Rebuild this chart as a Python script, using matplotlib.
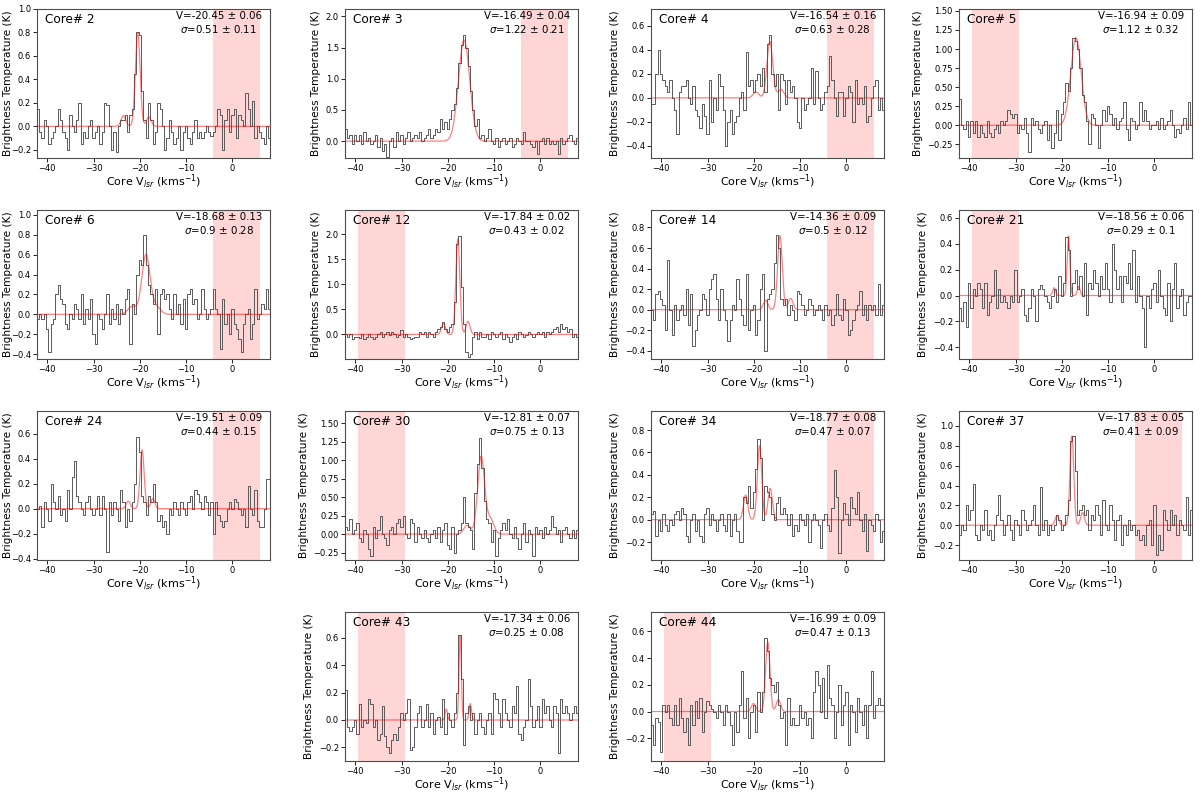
import numpy as np
import matplotlib
matplotlib.use("Agg")
import matplotlib.pyplot as plt
from matplotlib.ticker import MultipleLocator

# channel grid of the spectra (km/s)
v_start = -42.0
v_step = 0.5

cores = [2, 3, 4, 5, 6, 12, 14, 21, 24, 30, 34, 37, 43, 44]

# fitted centroid / width and their errors (as printed on each panel)
v_fit = [-20.45, -16.49, -16.54, -16.94, -18.68, -17.84, -14.36, -18.56, -19.51, -12.81, -18.77, -17.83, -17.34, -16.99]
v_err = [0.06, 0.04, 0.16, 0.09, 0.13, 0.02, 0.09, 0.06, 0.09, 0.07, 0.08, 0.05, 0.06, 0.09]
sig_fit = [0.51, 1.22, 0.63, 1.12, 0.9, 0.43, 0.5, 0.29, 0.44, 0.75, 0.47, 0.41, 0.25, 0.47]
sig_err = [0.11, 0.21, 0.28, 0.32, 0.28, 0.02, 0.12, 0.1, 0.15, 0.13, 0.07, 0.09, 0.08, 0.13]

# peak of main component and satellite (offset, peak) pairs of the fit
fit_peak = [0.8, 1.62, 0.47, 1.15, 0.6, 1.9, 0.72, 0.46, 0.47, 1.05, 0.66, 0.9, 0.62, 0.52]
fit_sats = [
    [(-3.1, 0.09), (2.4, 0.08)],
    [],
    [(-3.0, 0.05), (2.4, 0.07)],
    [],
    [(-3.0, 0.08), (2.3, 0.07)],
    [(-3.1, 0.22), (2.2, 0.26)],
    [(-3.1, 0.09), (2.3, 0.11)],
    [(-3.1, 0.06), (2.2, 0.07)],
    [(-3.0, 0.06), (2.3, 0.08)],
    [(-3.0, 0.12), (2.0, 0.2)],
    [(-3.0, 0.22), (2.3, 0.28)],
    [(-3.2, 0.1), (2.3, 0.13)],
    [(-3.0, 0.08), (2.2, 0.12)],
    [(-3.1, 0.06), (2.3, 0.09)],
]

# shaded baseline window for each core
shade = ["r", "r", "r", "l", "r", "l", "r", "l", "r", "l", "r", "r", "l", "l"]
shade_lims = {"r": (-4.2, 5.9), "l": (-39.4, -29.3)}

ylims = [(-0.27, 1.0), (-0.27, 2.12), (-0.5, 0.74), (-0.43, 1.525), (-0.45, 1.05),
         (-0.49, 2.48), (-0.48, 0.97), (-0.49, 0.66), (-0.41, 0.78), (-0.35, 1.665),
         (-0.36, 0.97), (-0.35, 1.15), (-0.30, 0.79), (-0.37, 0.745)]
ystep = [None, None, None, 0.25, None, None, None, None, None, 0.25, None, None, None, None]

# spectra, one value per 0.5 km/s channel from -42 to 8 km/s
t2 = [0.15, -0.05, -0.1, 0.05, 0.0, -0.15, -0.1, -0.05, 0.0, 0.15,
      0.05, -0.05, -0.1, -0.2, 0.1, 0.0, -0.05, 0.05, 0.2, -0.15,
      -0.05, -0.1, 0.0, 0.05, -0.1, -0.05, 0.0, -0.15, -0.05, 0.2,
      0.18, 0.0, -0.2, -0.05, -0.22, 0.0, 0.05, 0.05, 0.1, -0.05,
      0.1, 0.15, 0.45, 0.8, 0.78, 0.3, 0.05, -0.1, 0.2, 0.05,
      -0.15, -0.05, 0.2, 0.15, 0.0, -0.2, -0.1, 0.05, -0.05, -0.15,
      -0.1, 0.0, -0.2, -0.05, 0.0, -0.1, -0.15, -0.05, 0.05, -0.1,
      -0.05, -0.1, -0.05, 0.0, -0.05, -0.08, -0.05, 0.0, 0.15, 0.1,
      -0.2, 0.05, 0.15, -0.05, 0.1, 0.15, -0.1, 0.1, 0.05, 0.0,
      0.28, 0.15, 0.0, 0.22, -0.1, 0.0, -0.05, -0.1, -0.15, 0.0,
      -0.1]
t3 = [0.2, 0.05, 0.1, -0.05, 0.1, 0.0, 0.1, -0.05, 0.15, 0.0,
      0.05, -0.05, 0.0, 0.1, -0.1, 0.05, -0.15, -0.05, -0.25, 0.0,
      0.05, -0.1, 0.15, 0.0, 0.1, -0.05, 0.05, 0.15, 0.0, 0.05,
      0.1, 0.05, 0.15, 0.0, 0.05, 0.1, 0.2, 0.05, 0.1, 0.2,
      0.15, 0.35, 0.2, 0.3, 0.2, 0.35, 0.5, 0.6, 0.85, 1.25,
      1.55, 1.7, 1.5, 1.2, 0.8, 0.5, 0.25, 0.35, 0.05, 0.1,
      0.0, 0.05, 0.2, 0.0, -0.05, 0.05, -0.1, 0.0, 0.05, -0.05,
      0.0, 0.05, -0.1, -0.05, 0.05, 0.0, -0.05, 0.15, 0.0, 0.0,
      -0.05, -0.1, 0.0, -0.2, 0.0, 0.05, -0.05, 0.05, -0.05, 0.0,
      -0.05, 0.0, -0.2, 0.05, -0.05, 0.0, 0.05, 0.1, 0.0, -0.05,
      0.05]
t4 = [-0.05, -0.05, 0.2, 0.4, 0.2, 0.15, 0.1, 0.05, 0.15, 0.0,
      -0.1, -0.3, 0.05, 0.1, 0.1, 0.15, 0.0, -0.05, 0.1, -0.1,
      -0.15, -0.25, -0.05, -0.15, -0.3, 0.15, -0.2, 0.0, -0.1, 0.2,
      0.1, -0.1, -0.4, -0.2, -0.1, -0.3, -0.2, -0.15, 0.0, 0.05,
      -0.1, 0.38, 0.1, 0.15, 0.05, 0.15, 0.2, 0.1, 0.25, 0.05,
      0.45, 0.52, 0.2, 0.1, 0.2, -0.1, 0.2, 0.15, -0.05, 0.15,
      0.05, 0.1, 0.0, -0.2, -0.25, 0.0, -0.1, -0.05, 0.0, 0.25,
      -0.05, 0.22, 0.0, -0.1, -0.05, 0.05, 0.1, 0.35, 0.15, 0.0,
      -0.15, 0.05, 0.05, -0.15, 0.0, 0.1, 0.05, -0.2, 0.15, -0.05,
      0.0, -0.05, 0.1, -0.2, -0.15, 0.0, 0.1, 0.15, -0.1, 0.0,
      -0.1]
t5 = [0.35, 0.0, -0.05, 0.05, -0.15, 0.05, -0.1, 0.05, -0.15, 0.0,
      -0.1, -0.15, 0.05, -0.1, -0.15, -0.05, 0.0, -0.1, 0.05, 0.0,
      0.05, 0.2, 0.15, 0.1, 0.15, -0.1, 0.0, -0.05, 0.1, -0.1,
      -0.35, 0.1, 0.0, 0.05, -0.05, -0.1, 0.0, 0.05, -0.2, 0.0,
      -0.3, -0.1, 0.2, -0.2, 0.15, 0.3, 0.55, 0.45, 0.75, 1.15,
      1.1, 1.0, 0.75, 0.4, 0.3, 0.05, -0.25, 0.15, 0.1, 0.0,
      -0.3, 0.0, 0.2, 0.05, 0.25, 0.15, 0.0, 0.1, -0.05, 0.05,
      0.1, 0.3, -0.05, -0.2, 0.1, 0.05, -0.05, 0.0, 0.3, 0.05,
      0.2, 0.05, -0.05, 0.0, 0.0, 0.05, -0.05, 0.1, -0.05, 0.0,
      0.05, 0.2, 0.0, -0.15, -0.05, -0.1, 0.0, 0.1, -0.05, 0.3,
      0.0]
t6 = [-0.05, 0.0, -0.05, 0.0, -0.15, -0.38, -0.1, -0.05, 0.2, 0.3,
      0.15, 0.1, -0.1, -0.15, 0.0, -0.05, 0.1, 0.05, -0.05, 0.2,
      -0.1, 0.05, -0.05, 0.15, -0.2, -0.3, 0.0, -0.05, -0.15, 0.0,
      0.2, -0.1, 0.05, -0.05, 0.1, -0.1, 0.05, 0.0, 0.15, 0.25,
      -0.3, 0.1, 0.0, 0.4, 0.55, 0.5, 0.8, 0.5, 0.3, 0.2,
      0.1, 0.25, -0.2, 0.2, 0.25, 0.15, 0.2, 0.05, -0.05, 0.2,
      0.0, 0.1, -0.1, 0.15, -0.15, 0.2, 0.25, 0.1, 0.15, -0.05,
      0.0, 0.25, 0.05, -0.05, 0.0, 0.05, 0.25, 0.05, 0.0, -0.35,
      0.15, -0.1, 0.0, -0.2, 0.05, -0.1, -0.15, -0.25, -0.38, -0.1,
      0.0, 0.05, -0.25, -0.1, 0.25, -0.05, 0.0, 0.1, 0.05, 0.25,
      0.05]
t12 = [0.0, -0.05, 0.0, -0.1, -0.05, -0.05, -0.08, 0.0, -0.1, -0.05,
       0.0, -0.05, -0.1, -0.05, 0.0, 0.05, -0.05, 0.0, 0.05, -0.02,
       0.05, 0.0, -0.05, -0.02, 0.08, -0.05, 0.0, -0.05, -0.1, -0.08,
       -0.05, -0.05, 0.05, 0.0, 0.05, -0.05, 0.05, 0.0, -0.05, 0.05,
       0.1, 0.15, 0.25, 0.1, 0.05, 0.15, 0.2, 0.65, 1.8, 1.97,
       0.95, 0.2, -0.35, -0.45, -0.4, -0.05, 0.05, -0.1, 0.05, -0.05,
       -0.05, 0.0, -0.1, 0.05, 0.0, -0.05, 0.0, 0.05, -0.1, 0.0,
       -0.05, -0.15, -0.05, 0.0, -0.1, 0.05, 0.0, -0.05, -0.02, 0.05,
       0.0, -0.05, 0.0, 0.05, 0.0, 0.05, -0.05, 0.05, 0.0, 0.05,
       0.1, 0.15, 0.05, 0.2, 0.1, 0.15, 0.05, 0.1, -0.05, 0.0,
       -0.05]
t14 = [0.0, -0.1, 0.15, 0.18, 0.1, 0.05, -0.2, 0.48, 0.0, -0.25,
       0.05, -0.1, 0.0, 0.05, -0.05, 0.2, -0.15, 0.15, -0.35, -0.2,
       -0.05, 0.0, 0.15, 0.1, -0.05, 0.2, 0.3, 0.35, 0.1, -0.1,
       0.2, 0.0, -0.1, -0.3, -0.1, 0.05, 0.0, 0.3, 0.1, -0.05,
       -0.15, 0.35, -0.2, 0.0, 0.05, -0.25, -0.1, 0.2, 0.35, -0.4,
       0.1, 0.15, 0.2, 0.45, 0.73, 0.6, 0.1, 0.05, 0.1, -0.05,
       0.05, 0.0, -0.1, 0.18, 0.15, 0.05, -0.05, 0.0, 0.1, 0.05,
       -0.05, 0.0, 0.05, 0.0, -0.1, 0.05, -0.05, 0.0, -0.15, -0.05,
       0.15, -0.05, -0.1, 0.1, 0.0, -0.25, -0.2, -0.1, 0.0, 0.05,
       0.18, -0.05, 0.05, -0.1, 0.05, 0.0, 0.05, -0.05, 0.25, -0.05,
       0.05]
t21 = [-0.1, -0.2, -0.05, -0.24, 0.1, -0.1, 0.05, 0.0, 0.1, 0.05,
       -0.1, 0.1, -0.15, -0.05, 0.0, 0.2, -0.1, 0.05, -0.05, 0.0,
       -0.05, -0.1, 0.0, -0.05, 0.2, -0.05, 0.0, 0.05, -0.15, -0.2,
       -0.1, 0.05, 0.0, -0.2, 0.05, 0.08, 0.05, 0.0, -0.05, -0.1,
       0.0, 0.05, -0.05, 0.15, 0.0, 0.1, 0.45, 0.35, 0.0, 0.1,
       0.2, 0.05, 0.15, 0.0, 0.25, -0.15, 0.1, 0.05, 0.2, 0.1,
       0.0, 0.15, 0.05, 0.25, 0.05, -0.05, 0.4, 0.2, 0.05, 0.15,
       -0.05, 0.15, 0.1, 0.25, 0.05, 0.35, -0.05, 0.15, 0.0, -0.1,
       -0.4, 0.0, -0.1, 0.05, 0.1, -0.05, 0.2, 0.0, -0.1, -0.15,
       0.1, -0.2, 0.05, 0.25, -0.1, 0.0, 0.05, -0.15, -0.05, 0.0,
       0.0]
t24 = [0.0, 0.02, -0.15, 0.05, 0.0, -0.1, 0.2, 0.05, 0.0, 0.1,
       -0.05, 0.0, -0.1, 0.15, 0.0, 0.25, 0.38, 0.1, 0.05, 0.0,
       -0.05, 0.05, 0.1, 0.0, -0.05, 0.0, 0.1, -0.05, 0.1, 0.0,
       -0.35, 0.05, -0.05, 0.05, 0.0, -0.1, 0.15, 0.05, -0.15, 0.0,
       -0.1, 0.05, 0.2, 0.57, 0.45, 0.1, 0.05, -0.05, 0.1, 0.05,
       0.2, 0.05, -0.1, -0.05, -0.15, -0.1, -0.2, 0.0, -0.05, 0.05,
       0.0, -0.05, 0.05, 0.0, -0.05, 0.05, 0.1, 0.0, 0.15, 0.12,
       0.05, 0.0, 0.1, 0.05, -0.05, 0.05, -0.2, 0.05, -0.05, -0.1,
       -0.15, -0.1, 0.0, 0.05, 0.0, 0.08, 0.05, 0.0, -0.05, 0.0,
       -0.15, 0.18, 0.0, -0.05, 0.15, -0.1, -0.15, -0.15, 0.0, 0.24,
       0.24]
t30 = [0.1, 0.05, 0.2, 0.0, 0.05, 0.15, -0.05, -0.1, 0.05, 0.0,
       -0.2, -0.3, 0.1, -0.05, 0.05, 0.25, 0.0, -0.05, -0.15, 0.05,
       0.1, 0.0, 0.15, 0.2, 0.1, 0.25, 0.0, -0.05, 0.2, 0.15,
       -0.1, 0.1, 0.0, -0.05, 0.05, -0.05, -0.1, 0.0, 0.05, -0.05,
       0.1, -0.1, 0.05, 0.15, -0.15, -0.2, 0.1, -0.25, 0.0, 0.05,
       0.15, 0.5, 0.15, 0.1, 0.05, -0.2, 0.55, 0.95, 1.3, 0.9,
       0.45, 0.2, 0.15, -0.1, 0.05, -0.3, -0.05, 0.05, 0.15, 0.05,
       0.2, 0.0, -0.05, 0.1, -0.05, -0.2, 0.0, 0.15, -0.1, 0.05,
       0.0, -0.3, 0.1, 0.0, 0.05, -0.05, 0.1, 0.0, 0.05, 0.25,
       0.1, 0.0, 0.05, -0.1, 0.05, 0.1, 0.0, -0.05, 0.05, -0.05,
       0.05]
t34 = [0.05, 0.08, -0.15, 0.0, -0.1, 0.05, -0.05, -0.1, 0.0, -0.05,
       0.05, 0.08, 0.0, 0.1, 0.05, -0.15, -0.2, 0.0, 0.05, -0.1,
       0.0, -0.15, -0.2, 0.05, 0.1, -0.05, 0.05, 0.0, -0.1, 0.0,
       0.05, -0.05, -0.1, 0.05, -0.15, 0.0, 0.05, -0.1, -0.2, -0.2,
       0.2, 0.15, 0.3, 0.1, 0.25, 0.45, 0.72, 0.55, 0.0, 0.3,
       0.25, 0.2, 0.05, 0.0, 0.15, 0.2, 0.05, 0.1, 0.05, -0.05,
       0.05, -0.15, -0.05, -0.1, 0.05, 0.0, -0.05, 0.05, -0.2, 0.0,
       0.05, 0.0, -0.05, -0.25, 0.0, 0.05, -0.05, -0.1, 0.1, 0.44,
       0.2, -0.3, 0.0, 0.15, 0.05, -0.05, 0.2, 0.1, 0.05, 0.25,
       0.0, -0.1, 0.05, -0.28, 0.0, -0.05, -0.1, 0.05, 0.0, -0.2,
       -0.1]
t37 = [-0.1, 0.0, -0.05, 0.2, 0.05, 0.15, 0.42, -0.1, -0.15, 0.0,
       -0.05, 0.15, -0.1, -0.05, -0.15, 0.0, 0.1, 0.3, 0.05, -0.1,
       0.0, 0.1, -0.05, -0.15, 0.05, 0.0, -0.1, 0.15, 0.05, -0.05,
       0.0, 0.05, 0.2, 0.0, -0.1, 0.38, -0.05, 0.05, -0.1, 0.0,
       -0.05, 0.0, 0.1, 0.05, -0.05, 0.0, 0.1, 0.25, 0.85, 0.9,
       0.55, 0.1, 0.15, 0.2, 0.1, 0.15, -0.05, 0.1, 0.05, 0.2,
       0.1, -0.1, 0.25, 0.0, -0.05, 0.2, 0.05, -0.15, 0.05, 0.1,
       -0.2, 0.0, -0.1, 0.05, -0.05, 0.0, -0.1, -0.05, -0.15, -0.1,
       -0.2, 0.0, 0.05, -0.2, 0.2, -0.3, -0.1, -0.25, 0.15, 0.05,
       -0.05, 0.15, 0.0, 0.1, -0.1, 0.05, 0.0, -0.05, 0.28, -0.1,
       0.15]
t43 = [0.22, -0.05, -0.08, -0.05, 0.0, -0.1, 0.12, -0.05, 0.0, -0.02,
       0.15, 0.12, -0.05, 0.0, -0.15, -0.1, 0.1, -0.12, -0.2, -0.24,
       -0.15, -0.1, -0.15, -0.05, 0.05, 0.0, 0.05, 0.15, -0.22, -0.2,
       -0.05, 0.05, 0.1, -0.05, 0.0, 0.12, -0.05, 0.05, -0.1, 0.0,
       0.02, -0.05, 0.15, -0.1, 0.05, 0.0, -0.05, 0.05, 0.2, 0.62,
       0.3, -0.18, 0.05, 0.1, 0.0, 0.05, -0.1, 0.0, 0.05, -0.05,
       -0.1, 0.0, 0.05, -0.1, 0.2, 0.15, 0.05, -0.05, 0.15, 0.05,
       0.0, -0.05, 0.1, 0.05, 0.25, -0.1, -0.15, -0.05, 0.0, 0.3,
       0.1, -0.05, 0.0, 0.1, -0.05, 0.15, 0.05, 0.1, 0.0, -0.05,
       0.1, 0.05, -0.24, 0.15, 0.05, 0.1, 0.05, 0.0, 0.05, 0.1,
       0.05]
t44 = [-0.1, -0.25, -0.05, -0.08, -0.3, 0.05, 0.0, 0.05, -0.05, -0.1,
       0.05, -0.1, 0.1, -0.05, -0.15, -0.05, -0.25, 0.05, -0.1, 0.08,
       -0.05, 0.1, -0.15, 0.0, 0.08, 0.05, 0.02, 0.0, -0.05, 0.05,
       0.0, -0.1, 0.05, 0.0, -0.1, -0.25, 0.0, -0.15, 0.05, 0.3,
       -0.05, 0.1, -0.2, 0.0, 0.05, -0.15, 0.15, 0.0, 0.15, 0.55,
       0.45, 0.25, 0.2, 0.15, 0.22, 0.05, -0.05, 0.0, -0.25, 0.1,
       -0.1, -0.05, -0.1, -0.1, 0.05, -0.05, 0.0, -0.1, -0.05, -0.2,
       0.15, 0.3, 0.2, 0.0, 0.25, -0.05, 0.35, 0.1, 0.05, -0.2,
       0.0, 0.2, -0.1, 0.05, 0.15, -0.25, 0.05, 0.0, -0.15, 0.1,
       0.0, -0.1, 0.05, -0.2, 0.05, 0.3, -0.05, 0.05, 0.1, 0.05,
       0.05]
spectra = [t2, t3, t4, t5, t6, t12, t14, t21, t24, t30, t34, t37, t43, t44]

# panel grid: (row, col) for each core
slots = [(0, 0), (0, 1), (0, 2), (0, 3),
         (1, 0), (1, 1), (1, 2), (1, 3),
         (2, 0), (2, 1), (2, 2), (2, 3),
         (3, 1), (3, 2)]

W, H = 1200, 792
fig = plt.figure(figsize=(W / 100, H / 100), dpi=100)
col_left = [37, 345, 651, 959]
row_top = [9, 210, 411, 612]
ax_w, ax_h = 233, 149

xlim = (-42.2, 8.1)
vv = np.linspace(xlim[0], xlim[1], 1500)

for i, core in enumerate(cores):
    r, c = slots[i]
    ax = fig.add_axes([col_left[c] / W, 1 - (row_top[r] + ax_h) / H, ax_w / W, ax_h / H])
    t = np.array(spectra[i])
    v = v_start + v_step * np.arange(len(t))

    lo, hi = shade_lims[shade[i]]
    ax.axvspan(lo, hi, color="red", alpha=0.16, lw=0)

    ax.step(v, t, where="mid", color="0.35", lw=0.7)

    # hyperfine fit model
    s = sig_fit[i]
    model = fit_peak[i] * np.exp(-(vv - v_fit[i]) ** 2 / (2 * s ** 2))
    for off, amp in fit_sats[i]:
        model += amp * np.exp(-(vv - v_fit[i] - off) ** 2 / (2 * s ** 2))
    ax.plot(vv, model, color="red", lw=0.9, alpha=0.5)

    ax.set_xlim(*xlim)
    ax.set_ylim(*ylims[i])
    if ystep[i]:
        ax.yaxis.set_major_locator(MultipleLocator(ystep[i]))
    ax.tick_params(labelsize=6, length=3, width=0.6, pad=1.5)
    for sp in ax.spines.values():
        sp.set_linewidth(0.8)
        sp.set_color("0.3")

    ax.text(0.035, 0.975, f"Core# {core}", transform=ax.transAxes, fontsize=8.7, va="top")
    ax.text(0.78, 0.985, f"V={v_fit[i]} ± {v_err[i]:.2f}\n$\\sigma$={sig_fit[i]} ± {sig_err[i]}",
            transform=ax.transAxes, fontsize=7.4, ha="center", va="top", linespacing=1.15)
    ax.set_xlabel("Core V$_{lsr}$ (kms$^{-1}$)", fontsize=8, labelpad=0)
    ax.set_ylabel("Brightness Temperature (K)", fontsize=7.6, labelpad=3)
    if c == 0:
        # keep the left column label inside the figure
        ax.yaxis.set_label_coords(-0.105, 0.5)

fig.savefig("out.png", dpi=100)
